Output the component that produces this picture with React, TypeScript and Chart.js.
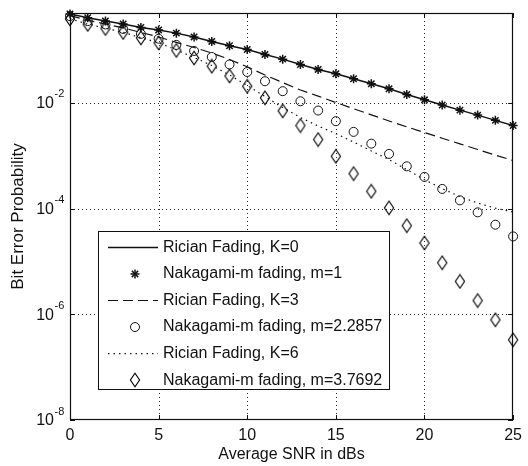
import React, { useEffect, useRef } from "react";
import { Chart, registerables } from "chart.js";

Chart.register(...registerables);

const FONT = "'Liberation Sans', Arial, Helvetica, sans-serif";
const INK = "#111111";

const snrDb = [0, 1, 2, 3, 4, 5, 6, 7, 8, 9, 10, 11, 12, 13, 14, 15, 16, 17, 18, 19, 20, 21, 22, 23, 24, 25];
const xTicks = [0, 5, 10, 15, 20, 25];
const yTickExponents = [-2, -4, -6, -8];

const ricianK0 = [0.481, 0.407, 0.354, 0.31, 0.267, 0.239, 0.208, 0.176, 0.145, 0.12, 0.102, 0.0822, 0.067, 0.0531, 0.0428, 0.0354, 0.0285, 0.0229, 0.0184, 0.01436, 0.0114, 0.00908, 0.00727, 0.00585, 0.00466, 0.00372];
const nakagamiM1 = [0.481, 0.407, 0.354, 0.31, 0.267, 0.239, 0.208, 0.176, 0.145, 0.12, 0.102, 0.0822, 0.067, 0.0531, 0.0428, 0.0354, 0.0285, 0.0229, 0.0184, 0.01436, 0.0114, 0.00908, 0.00727, 0.00585, 0.00466, 0.00372];
const ricianK3 = [0.447, 0.365, 0.31, 0.261, 0.214, 0.176, 0.139, 0.1114, 0.0877, 0.066, 0.048, 0.0336, 0.0242, 0.01745, 0.0134, 0.01014, 0.00773, 0.00593, 0.00454, 0.00351, 0.00274, 0.00214, 0.00167, 0.00131, 0.001026, 0.000807];
const nakagamiM2 = [0.436, 0.351, 0.304, 0.25, 0.201, 0.163, 0.1245, 0.0957, 0.0736, 0.0531, 0.0383, 0.0256, 0.0166, 0.0107, 0.00715, 0.00449, 0.00282, 0.00169, 0.00108, 0.00063, 0.000397, 0.000235, 0.000143, 0.0000847, 0.0000495, 0.0000297];
const ricianK6 = [0.39, 0.307, 0.258, 0.216, 0.17, 0.137, 0.1, 0.0721, 0.0508, 0.0336, 0.0213, 0.01315, 0.00815, 0.00527, 0.00364, 0.00262, 0.00181, 0.00123, 0.000843, 0.000545, 0.000353, 0.000238, 0.000168, 0.000127, 0.000102, 0.0000855];
const nakagamiM3 = [0.386, 0.304, 0.255, 0.214, 0.169, 0.136, 0.098, 0.0705, 0.0493, 0.0322, 0.0206, 0.01245, 0.00705, 0.00372, 0.00202, 0.000974, 0.000458, 0.000212, 0.000103, 0.0000474, 0.0000223, 0.00000945, 0.00000418, 0.00000182, 0.000000787, 0.000000329];

const legendLabels = [
  "Rician Fading, K=0",
  "Nakagami-m fading, m=1",
  "Rician Fading, K=3",
  "Nakagami-m fading, m=2.2857",
  "Rician Fading, K=6",
  "Nakagami-m fading, m=3.7692",
];

export default function App() {
  const ref = useRef<HTMLCanvasElement>(null);

  useEffect(() => {
    const canvas = ref.current;
    if (!canvas) return;

    const diamond = document.createElement("canvas");
    diamond.width = 12;
    diamond.height = 16;
    const dctx = diamond.getContext("2d")!;
    dctx.strokeStyle = "#000000";
    dctx.lineWidth = 1.15;
    dctx.lineJoin = "miter";
    dctx.beginPath();
    dctx.moveTo(6, 1.2);
    dctx.lineTo(10.6, 8);
    dctx.lineTo(6, 14.8);
    dctx.lineTo(1.4, 8);
    dctx.closePath();
    dctx.stroke();

    const pts = (ys: number[]) => snrDb.map((x, i) => ({ x, y: ys[i] }));

    const lineDs = (label: string, ys: number[], dash: number[], width: number) => ({
      label,
      data: pts(ys),
      borderColor: INK,
      borderWidth: width,
      borderDash: dash,
      pointRadius: 0,
      pointHoverRadius: 0,
      fill: false,
      tension: 0,
      showLine: true,
    });
    const markerDs = (label: string, ys: number[], style: any, radius: number, bw: number) => ({
      label,
      data: pts(ys),
      showLine: false,
      borderColor: INK,
      backgroundColor: "rgba(0,0,0,0)",
      pointStyle: style,
      pointRadius: radius,
      pointHoverRadius: radius,
      pointBorderWidth: bw,
      pointBorderColor: INK,
      pointBackgroundColor: "rgba(0,0,0,0)",
      clip: false,
    });

    const datasets: any[] = [
      lineDs(legendLabels[0], ricianK0, [], 1.5),
      markerDs(legendLabels[1], nakagamiM1, "star", 4.5, 1.5),
      lineDs(legendLabels[2], ricianK3, [10, 5], 1.2),
      markerDs(legendLabels[3], nakagamiM2, "circle", 4.5, 1),
      lineDs(legendLabels[4], ricianK6, [1.5, 4], 1.2),
      markerDs(legendLabels[5], nakagamiM3, diamond, 6, 1),
    ];

    const line = (ctx: CanvasRenderingContext2D, x1: number, y1: number, x2: number, y2: number) => {
      ctx.beginPath();
      ctx.moveTo(x1, y1);
      ctx.lineTo(x2, y2);
      ctx.stroke();
    };

    const framePlugin = {
      id: "matlabFrame",
      beforeDatasetsDraw(chart: any) {
        const { ctx, chartArea: a, scales } = chart;
        const xs = scales.x;
        const ys = scales.y;
        ctx.save();
        ctx.lineWidth = 1;
        ctx.strokeStyle = "#2a2a2a";
        ctx.setLineDash([1, 3]);
        for (const t of xTicks) {
          if (t <= xs.min || t >= xs.max) continue;
          const px = Math.round(xs.getPixelForValue(t)) + 0.5;
          line(ctx, px, a.top, px, a.bottom);
        }
        for (const e of yTickExponents) {
          const v = Math.pow(10, e);
          if (v <= ys.min || v >= ys.max) continue;
          const py = Math.round(ys.getPixelForValue(v)) + 0.5;
          line(ctx, a.left, py, a.right, py);
        }
        ctx.setLineDash([]);
        ctx.strokeStyle = INK;
        for (const t of xTicks) {
          const px = Math.round(xs.getPixelForValue(t)) + 0.5;
          line(ctx, px, a.bottom, px, a.bottom - 5);
          line(ctx, px, a.top, px, a.top + 5);
        }
        for (const e of yTickExponents) {
          const py = Math.round(ys.getPixelForValue(Math.pow(10, e))) + 0.5;
          line(ctx, a.left, py, a.left + 5, py);
          line(ctx, a.right, py, a.right - 5, py);
        }
        const x0 = Math.round(a.left) + 0.5;
        const y0 = Math.round(a.top) + 0.5;
        const x1 = Math.round(a.right) - 0.5;
        const y1 = Math.round(a.bottom) - 0.5;
        ctx.lineWidth = 1.2;
        ctx.strokeRect(x0, y0, x1 - x0, y1 - y0);
        ctx.restore();
      },
      afterDatasetsDraw(chart: any) {
        const { ctx, scales } = chart;
        const ys = scales.y;
        ctx.save();
        ctx.fillStyle = INK;
        ctx.textBaseline = "middle";
        for (const e of yTickExponents) {
          const py = ys.getPixelForValue(Math.pow(10, e));
          ctx.font = `16px ${FONT}`;
          ctx.textAlign = "right";
          ctx.fillText("10", 54, py + 1);
          ctx.font = `11px ${FONT}`;
          ctx.textAlign = "left";
          ctx.fillText(String(e), 54.5, py - 8.5);
        }

        // legend
        const lx = 98.5, ly = 231.5, lw = 291, lh = 158;
        ctx.fillStyle = "#ffffff";
        ctx.fillRect(lx, ly, lw, lh);
        ctx.strokeStyle = INK;
        ctx.lineWidth = 1;
        ctx.strokeRect(lx, ly, lw, lh);
        chart.data.datasets.forEach((ds: any, i: number) => {
          const cy = 247.4 + i * 26.55;
          ctx.strokeStyle = INK;
          if (ds.showLine) {
            ctx.lineWidth = ds.borderWidth;
            ctx.setLineDash(ds.borderDash || []);
            line(ctx, 108, cy, 158, cy);
            ctx.setLineDash([]);
          } else {
            const cx = 135;
            ctx.lineWidth = ds.pointBorderWidth;
            if (ds.pointStyle === "star") {
              const r = ds.pointRadius;
              const d = r * Math.SQRT1_2;
              line(ctx, cx - r, cy, cx + r, cy);
              line(ctx, cx, cy - r, cx, cy + r);
              line(ctx, cx - d, cy - d, cx + d, cy + d);
              line(ctx, cx - d, cy + d, cx + d, cy - d);
            } else if (ds.pointStyle === "circle") {
              ctx.beginPath();
              ctx.arc(cx, cy, ds.pointRadius, 0, Math.PI * 2);
              ctx.stroke();
            } else {
              const img = ds.pointStyle as HTMLCanvasElement;
              ctx.drawImage(img, Math.round(cx - img.width / 2), Math.round(cy - img.height / 2));
            }
          }
          ctx.fillStyle = INK;
          ctx.font = `16px ${FONT}`;
          ctx.textAlign = "left";
          ctx.textBaseline = "middle";
          ctx.fillText(ds.label, 163, cy);
        });
        ctx.restore();
      },
    };

    const chart = new Chart(canvas, {
      type: "line",
      data: { datasets },
      options: {
        responsive: false,
        animation: false,
        devicePixelRatio: 1,
        events: [],
        layout: { padding: { top: 13, right: 7, left: 0, bottom: 0 } },
        plugins: { legend: { display: false }, tooltip: { enabled: false } },
        scales: {
          x: {
            type: "linear",
            min: 0,
            max: 25,
            afterFit: (s: any) => {
              s.height = 46;
            },
            ticks: {
              stepSize: 5,
              autoSkip: false,
              maxRotation: 0,
              padding: 6,
              color: INK,
              font: { family: FONT, size: 16 },
            },
            grid: { display: false, drawTicks: false },
            border: { display: false },
            title: {
              display: true,
              text: "Average SNR in dBs",
              color: INK,
              font: { family: FONT, size: 16 },
              padding: { top: 0, bottom: 1.5 },
            },
          },
          y: {
            type: "logarithmic",
            min: 1e-8,
            max: 0.5,
            afterFit: (s: any) => {
              s.width = 70;
            },
            afterBuildTicks: (s: any) => {
              s.ticks = yTickExponents.map((e) => ({ value: Math.pow(10, e) }));
            },
            ticks: { display: false },
            grid: { display: false, drawTicks: false },
            border: { display: false },
            title: {
              display: true,
              text: "Bit Error Probability",
              color: INK,
              font: { family: FONT, size: 17 },
              padding: { top: 8.3, bottom: 0 },
            },
          },
        },
      } as any,
      plugins: [framePlugin],
    });

    return () => chart.destroy();
  }, []);

  return (
    <div style={{ position: "absolute", left: 0, top: 0, width: 528, height: 466, background: "#ffffff" }}>
      <canvas ref={ref} width={528} height={466} style={{ display: "block", width: 528, height: 466 }} />
    </div>
  );
}
